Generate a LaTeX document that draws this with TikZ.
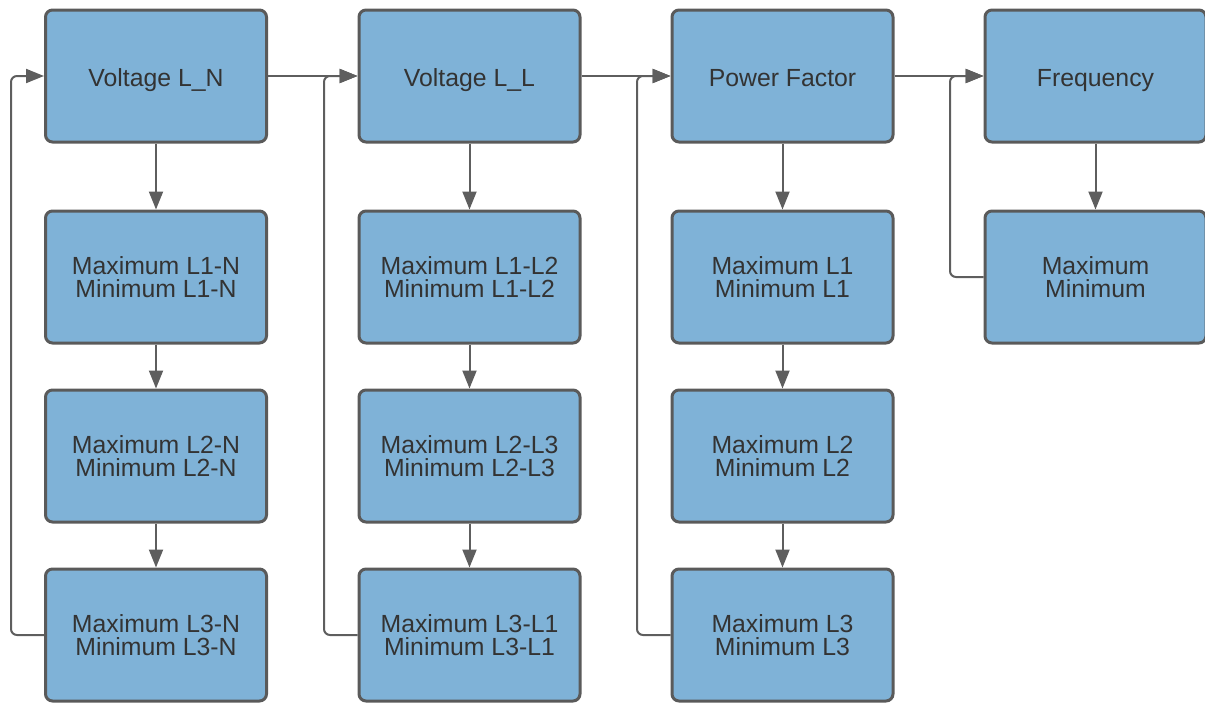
\documentclass[tikz,border=0pt]{standalone}
\usepackage{fontspec}
\setmainfont{Liberation Sans}
\usetikzlibrary{arrows.meta}
\definecolor{boxfill}{HTML}{7FB2D7}
\definecolor{boxline}{HTML}{5A5A5A}
\definecolor{conn}{HTML}{5E5E5E}
\definecolor{txt}{HTML}{333333}
\begin{document}
\begin{tikzpicture}[x=1pt,y=-1pt,
  box/.style={draw=boxline, line width=3pt, fill=boxfill, rounded corners=7pt,
    minimum width=221pt, minimum height=132pt, inner sep=0pt, align=center,
    text=txt, font=\fontsize{24.8}{23}\selectfont},
  one/.style={text height=20pt, text depth=0pt},
  conn/.style={draw=conn, line width=2pt, -{Triangle[length=18pt,width=14pt]}},
  loop/.style={conn, rounded corners=6pt}]
\useasboundingbox (0,0) rectangle (1205,704);
% column 1
\node[box,one] (vln) at (156,76) {Voltage L\_N};
\node[box] (n1) at (156,277) {Maximum L1-N\\Minimum L1-N};
\node[box] (n2) at (156,456) {Maximum L2-N\\Minimum L2-N};
\node[box] (n3) at (156,635) {Maximum L3-N\\Minimum L3-N};
% column 2
\node[box,one] (vll) at (469.5,76) {Voltage L\_L};
\node[box] (l1) at (469.5,277) {Maximum L1-L2\\Minimum L1-L2};
\node[box] (l2) at (469.5,456) {Maximum L2-L3\\Minimum L2-L3};
\node[box] (l3) at (469.5,635) {Maximum L3-L1\\Minimum L3-L1};
% column 3
\node[box,one] (pf) at (782.5,76) {Power Factor};
\node[box] (p1) at (782.5,277) {Maximum L1\\Minimum L1};
\node[box] (p2) at (782.5,456) {Maximum L2\\Minimum L2};
\node[box] (p3) at (782.5,635) {Maximum L3\\Minimum L3};
% column 4
\node[box,one] (fr) at (1095.5,76) {Frequency};
\node[box] (f1) at (1095.5,277) {Maximum\\Minimum};
% vertical arrows
\draw[conn] (vln) -- (n1);
\draw[conn] (n1) -- (n2);
\draw[conn] (n2) -- (n3);
\draw[conn] (vll) -- (l1);
\draw[conn] (l1) -- (l2);
\draw[conn] (l2) -- (l3);
\draw[conn] (pf) -- (p1);
\draw[conn] (p1) -- (p2);
\draw[conn] (p2) -- (p3);
\draw[conn] (fr) -- (f1);
% horizontal arrows
\draw[conn] (vln) -- (vll);
\draw[conn] (vll) -- (pf);
\draw[conn] (pf) -- (fr);
% loop backs
\draw[loop] (n3.west) -- (11,635) -- (11,76) -- (vln.west);
\draw[loop] (l3.west) -- (324,635) -- (324,76) -- (vll.west);
\draw[loop] (p3.west) -- (637,635) -- (637,76) -- (pf.west);
\draw[loop] (f1.west) -- (950,277) -- (950,76) -- (fr.west);
\end{tikzpicture}
\end{document}
